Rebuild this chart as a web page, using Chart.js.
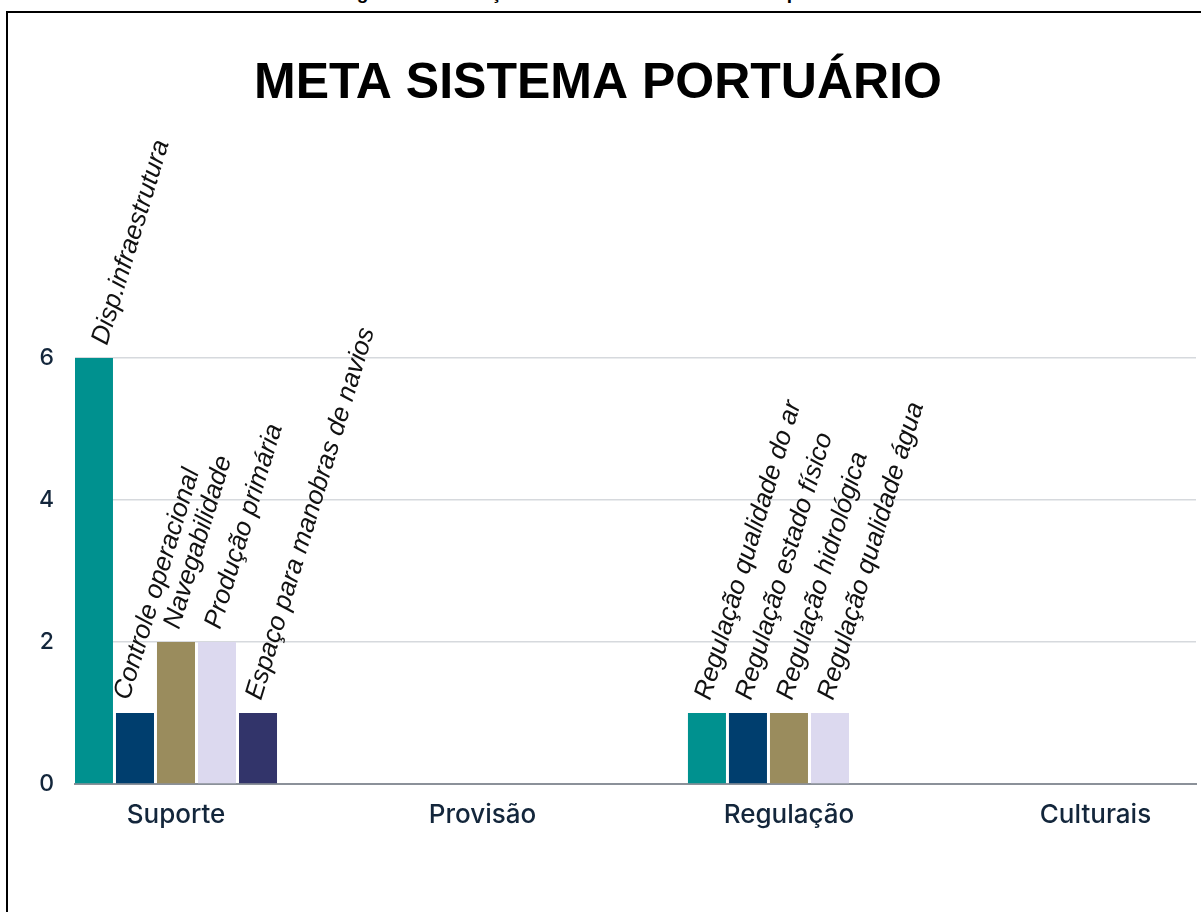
<!DOCTYPE html>
<html>
<head>
<meta charset="utf-8">
<script src="https://cdn.jsdelivr.net/npm/chart.js@4/dist/chart.umd.min.js"></script>
<style>
  html, body { margin: 0; padding: 0; background: #fff; overflow: hidden; }
  #wrap { position: relative; width: 1201px; height: 912px; }
  #c { position: absolute; left: 0; top: 0; }
  #frame { position: absolute; left: 6px; top: 11px; width: 1300px; height: 1000px;
           border-left: 2px solid #000; border-top: 2px solid #000; pointer-events: none; }
  #cap { position: absolute; left: 0; top: -17px; width: 1210px; text-align: center;
         font: bold 19px "Liberation Sans", Arial, sans-serif; line-height: 20px; color: #000; white-space: nowrap; }
</style>
</head>
<body>
<div id="wrap">
  <div id="cap">Figura 11 – Serviços ambientais da meta sistema portuário</div>
  <canvas id="c" width="1201" height="912"></canvas>
  <div id="frame"></div>
</div>
<script>
const categories = ['Suporte', 'Provisão', 'Regulação', 'Culturais'];

const slot1Values = [6, null, 1, null];
const slot2Values = [1, null, 1, null];
const slot3Values = [2, null, 1, null];
const slot4Values = [2, null, 1, null];
const slot5Values = [1, null, null, null];

const slot1Names = ['Disp.infraestrutura', '', 'Regulação qualidade do ar', ''];
const slot2Names = ['Controle operacional', '', 'Regulação estado físico', ''];
const slot3Names = ['Navegabilidade', '', 'Regulação hidrológica', ''];
const slot4Names = ['Produção primária', '', 'Regulação qualidade água', ''];
const slot5Names = ['Espaço para manobras de navios', '', '', ''];

const yTicks = [0, 2, 4, 6];

const slotColors = ['#00918f', '#003e6e', '#9a8c5d', '#dcd9ef', '#32346a'];
const slotValues = [slot1Values, slot2Values, slot3Values, slot4Values, slot5Values];
const slotNames = [slot1Names, slot2Names, slot3Names, slot4Names, slot5Names];

const datasets = slotValues.map((vals, s) => ({
  label: 'slot' + (s + 1),
  data: vals.map((v, i) => ({ x: i, y: v })),
  names: slotNames[s],
  backgroundColor: slotColors[s],
  borderWidth: 0,
  categoryPercentage: 0.669,
  barPercentage: 0.927
}));

// manual horizontal nudges for individual labels (styling only)
const labelNudgeX = { 'Disp.infraestrutura': 10, 'Controle operacional': -9 };

const barLabelPlugin = {
  id: 'barLabels',
  afterDatasetsDraw(chart) {
    const ctx = chart.ctx;
    ctx.save();
    ctx.font = 'italic 26px "Liberation Sans", Arial, sans-serif';
    ctx.fillStyle = '#111';
    ctx.textAlign = 'left';
    ctx.textBaseline = 'alphabetic';
    chart.data.datasets.forEach((ds, di) => {
      const meta = chart.getDatasetMeta(di);
      meta.data.forEach((el, i) => {
        const name = ds.names[i];
        const v = ds.data[i].y;
        if (!name || v === null) return;
        ctx.save();
        ctx.translate(el.x + 3 + (labelNudgeX[name] || 0), el.y - 12);
        ctx.rotate(-73 * Math.PI / 180);
        ctx.fillText(name, 0, 0);
        ctx.restore();
      });
    });
    ctx.restore();
  }
};

new Chart(document.getElementById('c'), {
  type: 'bar',
  data: { datasets },
  plugins: [barLabelPlugin],
  options: {
    responsive: false,
    animation: false,
    layout: { padding: { left: 0, right: 5, top: 0, bottom: 78 } },
    plugins: {
      legend: { display: false },
      tooltip: { enabled: false },
      title: {
        display: true,
        text: 'META SISTEMA PORTUÁRIO',
        color: '#000',
        font: { family: '"Liberation Sans", Arial, sans-serif', size: 50, weight: 'bold', lineHeight: 1 },
        padding: { top: 59, bottom: 249 }
      }
    },
    scales: {
      x: {
        type: 'linear',
        min: -0.3295,
        max: 3.328,
        offset: false,
        grid: { display: false },
        border: { display: true, color: '#8b9199', width: 2 },
        afterBuildTicks: (scale) => { scale.ticks = categories.map((c, i) => ({ value: i })); },
        afterFit: (scale) => { scale.height = 50; },
        ticks: {
          autoSkip: false,
          maxRotation: 0,
          padding: 8,
          color: '#13263b',
          font: { family: 'Inter, sans-serif', size: 26, weight: '500' },
          callback: (value) => categories[value] ?? ''
        }
      },
      y: {
        min: 0,
        max: 6,
        grid: { color: '#d6d9dd', lineWidth: 1.5, drawTicks: false },
        border: { display: false },
        afterBuildTicks: (scale) => { scale.ticks = yTicks.map(v => ({ value: v })); },
        afterFit: (scale) => { scale.width = 75; },
        ticks: {
          padding: 21,
          color: '#13263b',
          font: { family: 'Inter, sans-serif', size: 23, weight: '500' }
        }
      }
    }
  }
});
</script>
</body>
</html>
